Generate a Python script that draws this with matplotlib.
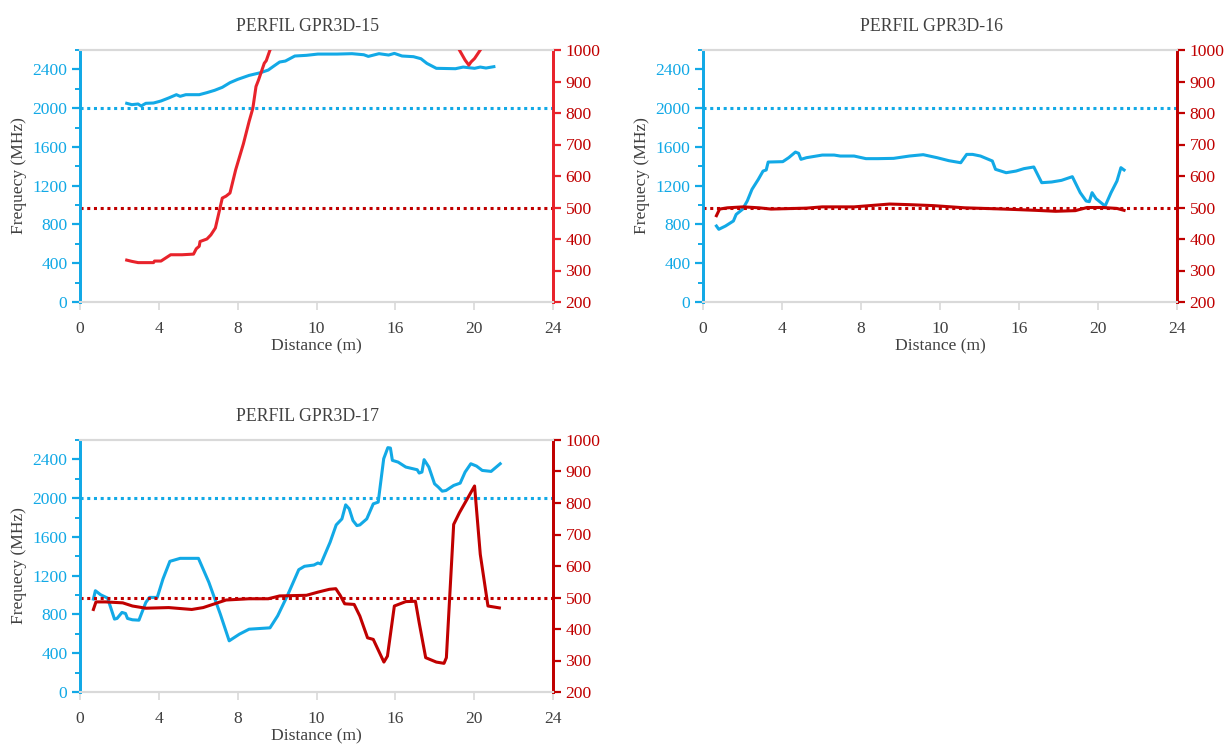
import matplotlib
matplotlib.use("Agg")
import matplotlib.pyplot as plt
from matplotlib.ticker import MultipleLocator, FixedLocator

plt.rcParams['font.family'] = ['Liberation Serif', 'DejaVu Serif']

# ---------------- data ----------------
titles = ["PERFIL GPR3D-15", "PERFIL GPR3D-16", "PERFIL GPR3D-17"]
x_ticks = [0, 4, 8, 12, 16, 20, 24]
x_tick_labels = ["0", "4", "8", "10", "16", "20", "24"]
freq_threshold = 2000
right_threshold = 500

# Profile 15 - frequency (blue)
p15_fx = [2.37, 2.63, 2.95, 3.1, 3.34, 3.73, 4.11, 4.5, 4.89, 5.08, 5.37, 6.05, 6.44, 6.83,
          7.22, 7.61, 8.0, 8.58, 9.16, 9.55, 9.84, 10.13, 10.42, 10.9, 11.49, 12.07, 13.04,
          13.8, 14.4, 14.63, 15.17, 15.66, 15.95, 16.34, 16.92, 17.3, 17.6, 18.08, 19.05,
          19.44, 20.02, 20.31, 20.6, 21.0]
p15_f = [2050, 2036, 2043, 2022, 2050, 2053, 2074, 2105, 2139, 2122, 2139, 2139, 2160, 2184,
         2215, 2263, 2297, 2338, 2366, 2393, 2435, 2476, 2486, 2538, 2545, 2558, 2558,
         2562, 2551, 2534, 2562, 2548, 2565, 2538, 2531, 2510, 2462, 2411, 2407,
         2424, 2411, 2424, 2414, 2428]
# Profile 15 - right axis (red)
p15_rx = [2.37, 2.63, 2.95, 3.73, 3.78, 4.11, 4.6, 5.18, 5.76, 5.9, 6.05, 6.09, 6.44, 6.64,
          6.87, 7.22, 7.41, 7.61, 7.9, 8.29, 8.58, 8.77, 8.93, 9.06, 9.35, 9.45, 9.64,
          10.2, 12.0, 16.0, 18.8, 19.25, 19.54, 19.73, 19.84, 20.02, 20.31, 20.6]
p15_r = [333, 329, 325, 325, 330, 330, 350, 350, 352, 369, 377, 392, 400, 413,
         435, 530, 536, 546, 620, 702, 773, 815, 884, 905, 958, 966, 1000,
         1060, 1150, 1150, 1060, 1000, 968, 952, 962, 973, 1000, 1030]

# Profile 16 - frequency (blue)
p16_fx = [0.68, 0.8, 1.14, 1.54, 1.68, 2.0, 2.24, 2.48, 2.8, 3.04, 3.2, 3.3, 4.04, 4.34,
          4.68, 4.84, 4.96, 5.24, 6.04, 6.64, 6.95, 7.65, 8.25, 8.85, 9.65, 10.45, 11.15,
          11.85, 12.45, 13.05, 13.35, 13.65, 14.05, 14.65, 14.81, 15.35, 15.85, 16.25,
          16.75, 17.15, 17.65, 18.15, 18.7, 19.1, 19.4, 19.56, 19.7, 19.9, 20.36, 20.66,
          20.96, 21.16, 21.32]
p16_f = [784, 750, 784, 836, 904, 956, 1042, 1162, 1265, 1351, 1362, 1444, 1448, 1489,
         1547, 1534, 1472, 1489, 1516, 1516, 1506, 1506, 1479, 1479, 1482, 1506, 1520,
         1489, 1458, 1437, 1523, 1523, 1506, 1455, 1369, 1334, 1351, 1376,
         1393, 1231, 1238, 1255, 1293, 1128, 1042, 1035, 1128, 1066, 990, 1128,
         1248, 1386, 1362]
# Profile 16 - right axis (red)
p16_rx = [0.68, 0.84, 1.24, 2.04, 2.84, 3.44, 5.24, 6.04, 7.65, 8.45, 9.45, 10.45, 11.65,
          13.25, 15.25, 16.85, 17.85, 18.85, 19.45, 20.25, 20.96, 21.32]
p16_r = [474, 495, 499, 502, 499, 495, 498, 502, 502, 506, 511, 509, 506,
         499, 495, 491, 488, 490, 500, 500, 497, 491]

# Profile 17 - frequency (blue)
p17_fx = [0.68, 0.78, 1.05, 1.4, 1.75, 1.88, 2.13, 2.31, 2.41, 2.66, 2.99, 3.34, 3.53, 3.92,
          4.21, 4.56, 5.08, 6.01, 6.54, 7.12, 7.57, 8.09, 8.58, 9.64, 10.03, 10.52, 11.1,
          11.39, 11.87, 12.07, 12.22, 12.69, 13.0, 13.29, 13.48, 13.66, 13.85, 14.05, 14.2,
          14.55, 14.88, 15.13, 15.41, 15.62, 15.75, 15.85, 16.14, 16.53, 17.11, 17.21,
          17.35, 17.46, 17.7, 17.99, 18.18, 18.38, 18.57, 18.96, 19.29, 19.54, 19.83,
          20.12, 20.41, 20.86, 21.32]
p17_f = [959, 1045, 1003, 969, 752, 759, 821, 810, 759, 745, 741, 924, 976, 976,
         1166, 1348, 1379, 1379, 1131, 803, 528, 597, 648, 662, 786, 993, 1262,
         1297, 1310, 1331, 1321, 1545, 1724, 1786, 1931, 1890, 1769, 1717, 1724,
         1786, 1941, 1959, 2407, 2521, 2517, 2390, 2372, 2321, 2293, 2259,
         2269, 2397, 2321, 2148, 2114, 2072, 2079, 2131, 2155, 2269, 2355,
         2331, 2286, 2276, 2355]
# Profile 17 - right axis (red)
p17_rx = [0.68, 0.81, 1.3, 2.17, 2.66, 3.34, 4.5, 5.67, 6.25, 7.41, 8.58, 9.55, 10.13,
          11.49, 12.07, 12.65, 12.98, 13.2, 13.43, 13.91, 14.2, 14.59, 14.88, 15.42, 15.6,
          15.95, 16.53, 17.02, 17.21, 17.54, 18.08, 18.47, 18.59, 18.96, 19.25, 20.02,
          20.31, 20.7, 21.28]
p17_r = [462, 486, 486, 483, 473, 466, 468, 462, 468, 492, 496, 496, 505,
         507, 517, 526, 528, 507, 480, 478, 441, 372, 367, 295, 314,
         473, 487, 488, 420, 309, 295, 291, 309, 732, 769, 854,
         637, 473, 467]

profiles = [
    (p15_fx, p15_f, p15_rx, p15_r, '#E8232B'),
    (p16_fx, p16_f, p16_rx, p16_r, '#C00000'),
    (p17_fx, p17_f, p17_rx, p17_r, '#C00000'),
]

# ---------------- styling ----------------
BLUE = '#12A9E6'
DRED = '#C00000'
GRAY = '#D9D9D9'
TXT = '#404040'
FS = 12.6

W, H = 1229, 751
fig = plt.figure(figsize=(W / 100, H / 100), dpi=100)
boxes = [(80, 553, 50, 302), (703, 1177, 50, 302), (80, 553, 440, 692)]

for (l, r, t, b), title, (fx, f, rx, rv, rcol) in zip(boxes, titles, profiles):
    ax = fig.add_axes([l / W, 1 - b / H, (r - l) / W, (b - t) / H])
    ax2 = ax.twinx()

    ax.set_xlim(0, 24)
    ax.set_ylim(0, 2600)
    ax2.set_ylim(200, 1000)

    ax.axhline(freq_threshold, color=BLUE, lw=2.2, ls=(0, (1, 1.2)), zorder=2)
    ax.plot(fx, f, color=BLUE, lw=2.2, zorder=3, solid_joinstyle='round')
    ax2.axhline(right_threshold, color=DRED, lw=2.2, ls=(0, (1, 1.2)), zorder=2)
    ax2.plot(rx, rv, color=rcol, lw=2.2, zorder=3, clip_on=True, solid_joinstyle='round')

    # x axis
    ax.xaxis.set_major_locator(FixedLocator(x_ticks))
    ax.set_xticklabels(x_tick_labels)
    ax.tick_params(axis='x', colors=GRAY, labelcolor=TXT, labelsize=FS, length=5.5,
                   width=1.2, direction='out', pad=8)
    ax.set_xlabel("Distance (m)", fontsize=FS, color=TXT, labelpad=1)

    # left axis
    ax.yaxis.set_major_locator(MultipleLocator(400))
    ax.yaxis.set_minor_locator(MultipleLocator(200))
    ax.tick_params(axis='y', which='major', colors=BLUE, labelcolor=BLUE, labelsize=FS,
                   length=6, width=1.6, direction='out', pad=3)
    ax.tick_params(axis='y', which='minor', colors=BLUE, length=3.5, width=1.4, direction='out')
    ax.set_ylabel("Frequecy (MHz)", fontsize=FS, color=TXT, labelpad=4)

    # right axis
    ax2.yaxis.set_major_locator(MultipleLocator(100))
    ax2.tick_params(axis='y', colors=rcol, labelcolor=DRED, labelsize=FS, length=6,
                    width=1.6, direction='out', pad=3)

    for a in (ax, ax2):
        a.spines['top'].set_color(GRAY)
        a.spines['top'].set_linewidth(1.5)
        a.spines['bottom'].set_color(GRAY)
        a.spines['bottom'].set_linewidth(1.5)
        a.spines['left'].set_color(BLUE)
        a.spines['left'].set_linewidth(2.0)
        a.spines['right'].set_color(rcol)
        a.spines['right'].set_linewidth(2.0)

    ax.set_title(title, fontsize=FS + 0.2, color=TXT, pad=14, x=0.5 - 9 / (r - l))

fig.savefig("out.png", dpi=100)
